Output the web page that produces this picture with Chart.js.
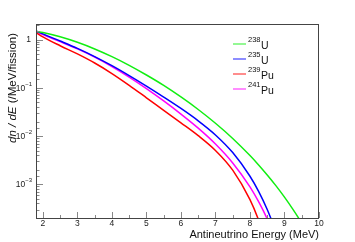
<!DOCTYPE html>
<html>
<head>
<meta charset="utf-8">
<script src="https://cdn.jsdelivr.net/npm/chart.js@4.4.1/dist/chart.umd.min.js"></script>
<style>
  html, body { margin: 0; padding: 0; background: #ffffff; }
  canvas { display: block; }
</style>
</head>
<body>
<canvas id="c" width="355" height="242"></canvas>
<script>
// ---- data ----
const energies = [1.8, 2, 2.5, 3, 3.5, 4, 4.5, 5, 5.5, 6, 6.5, 7, 7.5, 8, 8.25, 8.5, 8.75, 9, 9.25, 9.5, 9.75];

const u238 = [1.485, 1.394, 1.139, 0.876, 0.638, 0.442, 0.292, 0.184, 0.112, 0.0645, 0.0355, 0.0184, 0.00891, 0.00394, 0.00252, 0.00156, 0.000937, 0.000541, 0.000298, 0.000157, 0.000078];
const u235 = [1.511, 1.308, 0.931, 0.6555, 0.444, 0.2876, 0.179, 0.1083, 0.0642, 0.0373, 0.0207, 0.01054, 0.00454, 0.001467, 0.000712, 0.000300, 0.000107];
const pu239 = [1.397, 1.136, 0.745, 0.504, 0.3265, 0.1975, 0.1126, 0.0621, 0.0341, 0.0188, 0.0102, 0.00503, 0.00196, 0.000480, 0.000181, 0.000053];
const pu241 = [1.459, 1.265, 0.905, 0.640, 0.432, 0.2757, 0.1664, 0.0960, 0.0533, 0.0285, 0.01456, 0.00683, 0.00277, 0.000882, 0.000435, 0.000191, 0.0000725];

const seriesMass = ['238', '235', '239', '241'];
const seriesElement = ['U', 'U', 'Pu', 'Pu'];
const seriesColors = ['#11ee11', '#0000ff', '#ff0000', '#ff00ff'];

const xTickValues = [2, 3, 4, 5, 6, 7, 8, 9, 10];
const xMinorTicks = [2.5, 3.5, 4.5, 5.5, 6.5, 7.5, 8.5, 9.5];
const yTickValues = [1, 0.1, 0.01, 0.001];
const yTickBase = ['1', '10', '10', '10'];
const yTickExp = ['', '\u22121', '\u22122', '\u22123'];

const xTitle = 'Antineutrino Energy (MeV)';
const yTitleItalic = 'dn / dE';
const yTitleRest = ' (/MeV/fission)';

// ---- build datasets ----
function pts(vals) { return vals.map((v, i) => ({ x: energies[i], y: v })); }
const allSeries = [u238, u235, pu239, pu241];
const datasets = allSeries.map((vals, i) => ({
  label: seriesMass[i] + seriesElement[i],
  data: pts(vals),
  borderColor: seriesColors[i],
  borderWidth: 1.5,
  pointRadius: 0,
  fill: false,
  cubicInterpolationMode: 'monotone'
}));

const FONT = '"Liberation Sans", Arial, Helvetica, sans-serif';

const decor = {
  id: 'decor',
  afterDatasetsDraw(chart) {
    const ctx = chart.ctx;
    const a = chart.chartArea;
    const xs = chart.scales.x, ys = chart.scales.y;
    ctx.save();
    // ticks (inward)
    ctx.strokeStyle = '#888';
    ctx.lineWidth = 1;
    ctx.beginPath();
    xTickValues.forEach(v => {
      const px = Math.round(xs.getPixelForValue(v)) + 0.5;
      ctx.moveTo(px, a.bottom); ctx.lineTo(px, a.bottom - 6);
    });
    xMinorTicks.forEach(v => {
      const px = Math.round(xs.getPixelForValue(v)) + 0.5;
      ctx.moveTo(px, a.bottom); ctx.lineTo(px, a.bottom - 3);
    });
    ys.ticks.forEach(t => {
      const v = t.value;
      const lg = Math.log10(v);
      const major = Math.abs(lg - Math.round(lg)) < 1e-6;
      const py = Math.round(ys.getPixelForValue(v)) + 0.5;
      if (py < a.top || py > a.bottom) return;
      ctx.moveTo(a.left, py); ctx.lineTo(a.left + (major ? 7 : 3.5), py);
    });
    ctx.stroke();
    // frame
    ctx.strokeStyle = '#444';
    ctx.lineWidth = 1;
    ctx.strokeRect(Math.round(a.left) + 0.5, Math.round(a.top) + 0.5,
                   Math.round(a.right - a.left) - 1, Math.round(a.bottom - a.top));
    // y tick labels
    ctx.fillStyle = '#222';
    ctx.textBaseline = 'middle';
    yTickValues.forEach((v, i) => {
      const py = ys.getPixelForValue(v);
      const right = a.left - 4;
      if (yTickExp[i]) {
        ctx.font = '6px ' + FONT;
        ctx.textAlign = 'right';
        const ew = ctx.measureText(yTickExp[i]).width;
        ctx.fillText(yTickExp[i], right, py - 3.5);
        ctx.font = '8.5px ' + FONT;
        ctx.fillText(yTickBase[i], right - ew, py + 0.5);
      } else {
        ctx.font = '8.5px ' + FONT;
        ctx.textAlign = 'right';
        ctx.fillText(yTickBase[i], right - 1, py + 0.5);
      }
    });
    // x title
    ctx.fillStyle = '#111';
    ctx.font = '11px ' + FONT;
    ctx.textAlign = 'right';
    ctx.textBaseline = 'alphabetic';
    ctx.fillText(xTitle, a.right, 238);
    // y title (rotated, aligned to top)
    ctx.save();
    ctx.translate(16, 0);
    ctx.rotate(-Math.PI / 2);
    ctx.font = 'italic 11.5px ' + FONT;
    const w1 = ctx.measureText(yTitleItalic).width;
    ctx.font = '11.5px ' + FONT;
    const w2 = ctx.measureText(yTitleRest).width;
    const topEnd = 33;
    const start = -(topEnd + w1 + w2);
    ctx.textAlign = 'left';
    ctx.textBaseline = 'alphabetic';
    ctx.font = 'italic 11.5px ' + FONT;
    ctx.fillText(yTitleItalic, start, 0);
    ctx.font = '11.5px ' + FONT;
    ctx.fillText(yTitleRest, start + w1, 0);
    ctx.restore();
    // legend
    seriesMass.forEach((m, i) => {
      const ly = 44 + i * 15;
      ctx.strokeStyle = seriesColors[i];
      ctx.globalAlpha = 0.6;
      ctx.lineWidth = 1.5;
      ctx.beginPath();
      ctx.moveTo(233, ly); ctx.lineTo(246, ly);
      ctx.stroke();
      ctx.globalAlpha = 1;
      ctx.fillStyle = '#111';
      ctx.textAlign = 'left';
      ctx.textBaseline = 'alphabetic';
      ctx.font = '7.5px ' + FONT;
      ctx.fillText(m, 248, ly - 2.3);
      const mw = ctx.measureText(m).width;
      ctx.font = '10.5px ' + FONT;
      ctx.fillText(seriesElement[i], 248 + mw + 0.5, ly + 4.5);
    });
    ctx.restore();
  }
};

new Chart(document.getElementById('c'), {
  type: 'line',
  data: { datasets },
  options: {
    responsive: false,
    devicePixelRatio: 1,
    animation: false,
    layout: { padding: { top: 24, right: 36, left: 0, bottom: 0 } },
    plugins: { legend: { display: false }, tooltip: { enabled: false } },
    scales: {
      x: {
        type: 'linear',
        min: 1.8,
        max: 10,
        afterBuildTicks(scale) { scale.ticks = xTickValues.map(v => ({ value: v })); },
        afterFit(scale) { scale.height = 24; },
        grid: { display: false, drawTicks: false },
        border: { display: false },
        ticks: {
          autoSkip: false,
          maxRotation: 0,
          padding: 1,
          color: '#222',
          font: { family: FONT, size: 8.5 },
          callback: v => String(v)
        }
      },
      y: {
        type: 'logarithmic',
        min: 2e-4,
        max: 2.1,
        afterFit(scale) { scale.width = 36; },
        grid: { display: false, drawTicks: false },
        border: { display: false },
        ticks: { display: false }
      }
    }
  },
  plugins: [decor]
});
</script>
</body>
</html>
